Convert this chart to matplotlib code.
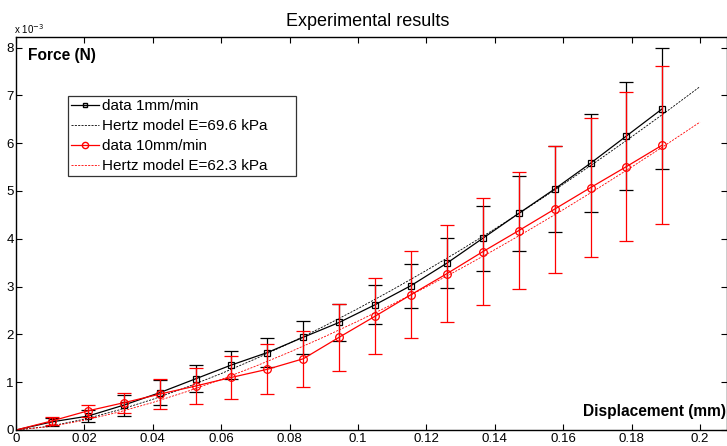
import numpy as np
import matplotlib
matplotlib.use('Agg')
import matplotlib.pyplot as plt
from matplotlib.lines import Line2D

plt.rcParams['font.family'] = ['Liberation Sans', 'DejaVu Sans']

# displacement (mm) of measured points
disp = [0.0105, 0.021, 0.0315, 0.042, 0.0525, 0.063, 0.0735, 0.084, 0.0945,
        0.105, 0.1155, 0.126, 0.1365, 0.147, 0.1575, 0.168, 0.1785, 0.189]

# force in units of 1e-3 N
force_1mm = [0.17, 0.29, 0.52, 0.78, 1.07, 1.36, 1.62, 1.94, 2.25,
             2.62, 3.02, 3.49, 4.01, 4.53, 5.04, 5.58, 6.15, 6.72]
err_1mm = [0.09, 0.13, 0.22, 0.26, 0.28, 0.29, 0.31, 0.35, 0.39,
           0.41, 0.46, 0.53, 0.68, 0.78, 0.89, 1.02, 1.13, 1.27]
force_10mm = [0.19, 0.40, 0.57, 0.75, 0.92, 1.10, 1.27, 1.49, 1.94,
              2.38, 2.83, 3.27, 3.73, 4.17, 4.62, 5.07, 5.51, 5.96]
err_10mm = [0.09, 0.13, 0.21, 0.31, 0.38, 0.45, 0.52, 0.59, 0.70,
            0.80, 0.91, 1.02, 1.12, 1.23, 1.33, 1.46, 1.55, 1.65]

# Hertz model curves
model_x = [0.0, 0.01, 0.02, 0.03, 0.04, 0.05, 0.06, 0.07, 0.08, 0.09, 0.10,
           0.11, 0.12, 0.13, 0.14, 0.15, 0.16, 0.17, 0.18, 0.19, 0.20]
hertz_69 = [0.0, 0.080, 0.227, 0.417, 0.642, 0.898, 1.180, 1.487, 1.817, 2.168, 2.539,
            2.930, 3.338, 3.764, 4.206, 4.665, 5.139, 5.628, 6.132, 6.650, 7.182]
hertz_62 = [0.0, 0.072, 0.204, 0.374, 0.576, 0.805, 1.058, 1.333, 1.629, 1.944, 2.277,
            2.627, 2.993, 3.375, 3.772, 4.183, 4.608, 5.047, 5.499, 5.963, 6.440]

W, H = 727, 446
fig = plt.figure(figsize=(W/100, H/100), dpi=100)
ax = fig.add_axes([16/W, 1-430/H, 1-16/W, (430-37)/H])

red = (1, 0, 0)
# black series
ax.plot([0]+disp, [0]+force_1mm, color='k', lw=0.9)
ax.errorbar(disp, force_1mm, yerr=err_1mm, fmt='none', ecolor='k', elinewidth=0.9,
            capsize=5, capthick=0.9)
ax.plot(disp, force_1mm, ls='none', marker='s', ms=4, mfc='none', mec='k', mew=0.9)
ax.plot(model_x, hertz_69, color='k', ls=(0, (2.5, 1.5)), lw=0.6)
# red series
ax.plot([0]+disp, [0]+force_10mm, color=red, lw=0.9)
ax.errorbar(disp, force_10mm, yerr=err_10mm, fmt='none', ecolor=red, elinewidth=0.9,
            capsize=5, capthick=0.9)
ax.plot(disp, force_10mm, ls='none', marker='o', ms=5.5, mfc='none', mec=red, mew=0.9)
ax.plot(model_x, hertz_62, color=red, ls=(0, (2.5, 1.5)), lw=0.6)

ax.set_xlim(0, 0.2079)
ax.set_ylim(0, 8.22)
ax.set_xticks(np.arange(0, 0.201, 0.02))
ax.set_xticklabels(['0', '0.02', '0.04', '0.06', '0.08', '0.1', '0.12', '0.14',
                    '0.16', '0.18', '0.2'])
ax.set_yticks(range(0, 9))
ax.tick_params(direction='in', length=4, width=0.8, labelsize=9.5, top=True, right=True)
ax.tick_params(axis='x', pad=2.5)
ax.tick_params(axis='y', pad=1.5)
for s in ax.spines.values():
    s.set_linewidth(1.0)

ax.text(0.0035, 7.98, 'Force (N)', fontsize=11.2, fontweight='bold', va='top', ha='left')
ax.text(0.2076, 0.38, 'Displacement (mm)', fontsize=11.2, fontweight='bold',
        va='center', ha='right')
fig.text(368/W, 1-21/H, 'Experimental results', fontsize=13, ha='center', va='center')
fig.text(14/W, 1-36/H, 'x 10$^{-3}$', fontsize=7, ha='left', va='bottom')

handles = [
    Line2D([], [], color='k', lw=0.9, marker='s', ms=3.5, mfc='none'),
    Line2D([], [], color='k', lw=0.6, ls=(0, (2.5, 1.5))),
    Line2D([], [], color=red, lw=0.9, marker='o', ms=4.5, mfc='none'),
    Line2D([], [], color=red, lw=0.6, ls=(0, (2.5, 1.5))),
]
labels = ['data 1mm/min', 'Hertz model E=69.6 kPa', 'data 10mm/min',
          'Hertz model E=62.3 kPa']
leg = ax.legend(handles, labels, loc='upper left', mode='expand',
                bbox_to_anchor=(68/W, 1-176/H, 228/W, 80/H),
                bbox_transform=fig.transFigure,
                fontsize=11, frameon=True, fancybox=False, borderpad=0.2,
                labelspacing=0.4, handlelength=1.8, handletextpad=0.25,
                borderaxespad=0)
leg.get_frame().set_edgecolor('k')
leg.get_frame().set_linewidth(0.9)

fig.savefig('out.png', dpi=100)
